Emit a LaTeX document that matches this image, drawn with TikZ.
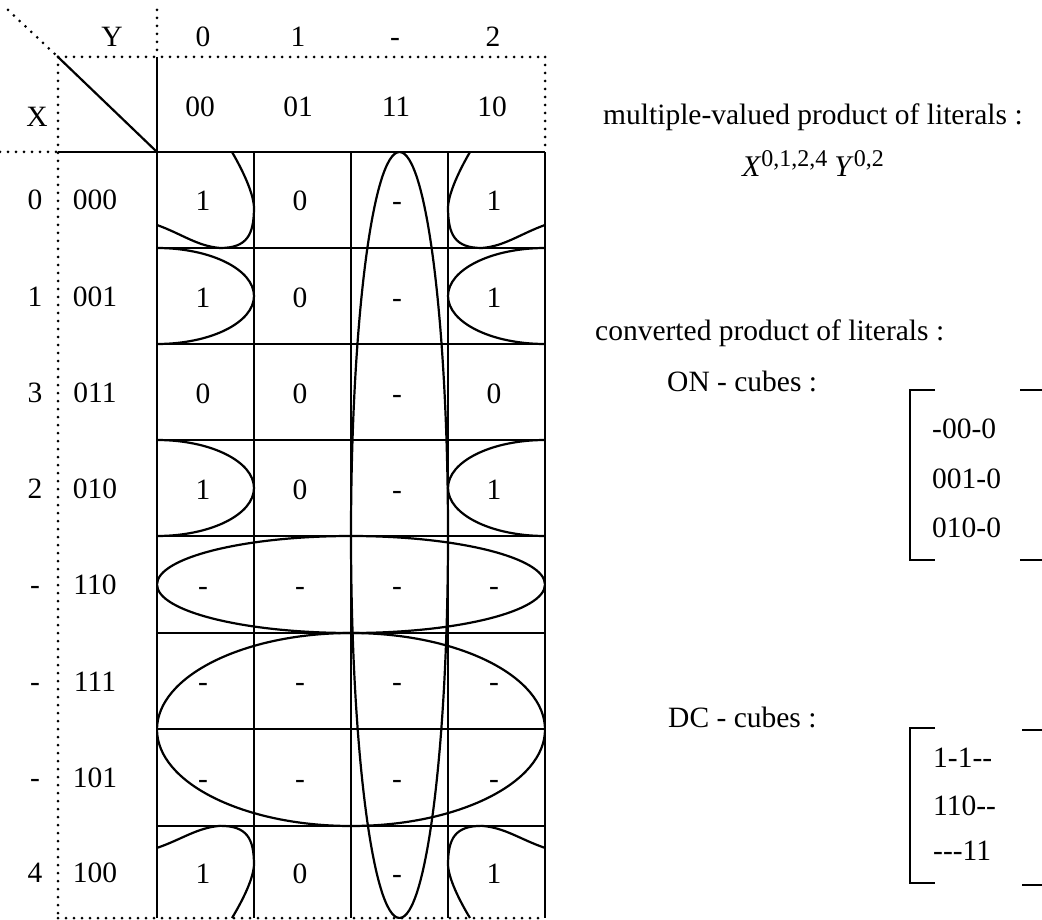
\documentclass[tikz,border=0pt]{standalone}
\usepackage{fontspec}
\setmainfont{Liberation Serif}
\begin{document}
\begin{tikzpicture}[x=1pt,y=-1pt,
  txt/.style={font=\fontsize{29.5}{35}\selectfont, inner sep=0pt},
  lbl/.style={txt, text height=20pt, text depth=0pt},
  gridline/.style={line width=2.2pt},
  dotline/.style={line width=3pt, dash pattern=on 0pt off 8pt, line cap=round},
  loopline/.style={line width=2.2pt},
  brk/.style={line width=2.4pt}]
\useasboundingbox (0,0) rectangle (1042,920);
% dotted frame
\draw[dotline] (8,10) -- (58,57);
\draw[dotline] (157,10) -- (157,57);
\draw[dotline] (58,57) -- (545,57);
\draw[dotline] (545,57) -- (545,152);
\draw[dotline] (58,57) -- (58,918);
\draw[dotline] (0,152) -- (58,152);
\draw[dotline] (58,918) -- (545,918);
% solid header lines
\draw[gridline] (58,57) -- (157,152);
\draw[gridline] (157,57) -- (157,152);
\draw[gridline] (58,152) -- (157,152);
% grid
\foreach \c in {157,254,351,448,545} \draw[gridline] (\c,152) -- (\c,918);
\foreach \r in {152,248,344,440,536,633,729,826} \draw[gridline] (157,\r) -- (545,\r);
% loops
\begin{scope}
  \clip (157,152) rectangle (545,918);
  \draw[loopline] (399.5,535) ellipse [x radius=48.5, y radius=383];
  \draw[loopline] (351,584.5) ellipse [x radius=194, y radius=48.5];
  \draw[loopline] (351,729.5) ellipse [x radius=194, y radius=96.5];
  \draw[loopline] (157,296) ellipse [x radius=97, y radius=48];
  \draw[loopline] (545,296) ellipse [x radius=97, y radius=48];
  \draw[loopline] (157,488) ellipse [x radius=97, y radius=48];
  \draw[loopline] (545,488) ellipse [x radius=97, y radius=48];
\end{scope}
\begin{scope}[shift={(157,152)}]
  \draw[loopline] (0,73) .. controls (25,82) and (40,94) .. (63,96) .. controls (90,96) and (97,83) .. (97,55) .. controls (96,38) and (82,12) .. (75,0);
\end{scope}
\begin{scope}[shift={(545,152)}, xscale=-1]
  \draw[loopline] (0,73) .. controls (25,82) and (40,94) .. (63,96) .. controls (90,96) and (97,83) .. (97,55) .. controls (96,38) and (82,12) .. (75,0);
\end{scope}
\begin{scope}[shift={(157,918)}, yscale=-0.96]
  \draw[loopline] (0,73) .. controls (25,82) and (40,94) .. (63,96) .. controls (90,96) and (97,83) .. (97,55) .. controls (96,38) and (82,12) .. (75,0);
\end{scope}
\begin{scope}[shift={(545,918)}, xscale=-1, yscale=-0.96]
  \draw[loopline] (0,73) .. controls (25,82) and (40,94) .. (63,96) .. controls (90,96) and (97,83) .. (97,55) .. controls (96,38) and (82,12) .. (75,0);
\end{scope}
% header texts
\node[lbl] (Y) at (112,37) {Y};
\node[lbl] (y0) at (203,37) {0};
\node[lbl] (y1) at (298,37) {1};
\node[lbl] (yd) at (395,37) {-};
\node[lbl] (y2) at (493,37) {2};
\node[lbl] (X) at (37,117) {X};
\node[lbl] (b00) at (200,107) {00};
\node[lbl] (b01) at (298,107) {01};
\node[lbl] (b11) at (396,107) {11};
\node[lbl] (b10) at (492,107) {10};
% row labels
\foreach \v/\b/\y [count=\i] in {0/000/200, 1/001/296, 3/011/392, 2/010/488, -/110/584.5, -/111/681, -/101/777.5, 4/100/872} {
  \node[lbl] (xv\i) at (35,\y) {\v};
  \node[lbl] (xb\i) at (95,\y) {\b};
}
% cell values
\foreach \y/\a/\b/\c/\d [count=\i] in {201/1/0/-/1, 297/1/0/-/1, 393/0/0/-/0, 489/1/0/-/1, 585.5/-/-/-/-, 681.5/-/-/-/-, 778/-/-/-/-, 873/1/0/-/1} {
  \node[lbl] (ca\i) at (203,\y) {\a};
  \node[lbl] (cb\i) at (300,\y) {\b};
  \node[lbl] (cc\i) at (397,\y) {\c};
  \node[lbl] (cd\i) at (494,\y) {\d};
}
% right side texts
\node[txt, anchor=west] (mv) at (603,117) {multiple-valued product of literals :};
\node[inner sep=0pt, anchor=base west, font=\fontsize{30}{35}\selectfont] (formula) at (742,177) {\itshape X\/\raisebox{10pt}{\upshape\fontsize{24}{28}\selectfont 0,1,2,4}\hspace{7pt}Y\/\raisebox{10pt}{\upshape\fontsize{24}{28}\selectfont 0,2}};
\node[txt, anchor=west] (conv) at (595,333) {converted product of literals :};
\node[txt, anchor=west] (on) at (667,381) {ON - cubes :};
\node[txt, anchor=west] (dc) at (668,717) {DC - cubes :};
\node[lbl, anchor=west] (on1) at (932,428) {{-}00{-}0};
\node[lbl, anchor=west] (on2) at (932,478) {001{-}0};
\node[lbl, anchor=west] (on3) at (932,527) {010{-}0};
\node[lbl, anchor=west] (dc1) at (933,757) {1{-}1{-}{-}};
\node[lbl, anchor=west] (dc2) at (933,805) {110{-}{-}};
\node[lbl, anchor=west] (dc3) at (933,850) {{-}{-}{-}11};
% brackets
\draw[brk] (935,390) -- (910,390) -- (910,560) -- (935,560);
\draw[brk] (1020,390) -- (1042,390);
\draw[brk] (1020,560) -- (1042,560);
\draw[brk] (935,728) -- (910,728) -- (910,883) -- (935,883);
\draw[brk] (1022,730) -- (1042,730);
\draw[brk] (1022,885) -- (1042,885);
\end{tikzpicture}
\end{document}
